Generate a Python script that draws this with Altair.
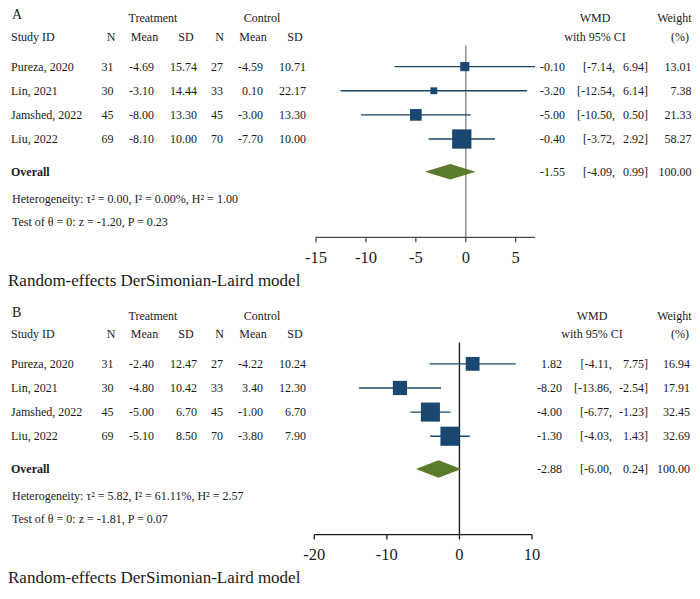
import altair as alt
import pandas as pd

# ---------------- data ----------------
studies = ["Pureza, 2020", "Lin, 2021", "Jamshed, 2022", "Liu, 2022"]
treat_n = [31, 30, 45, 69]
ctrl_n = [27, 33, 45, 70]

# Panel A
a_treat_mean = [-4.69, -3.10, -8.00, -8.10]
a_treat_sd = [15.74, 14.44, 13.30, 10.00]
a_ctrl_mean = [-4.59, 0.10, -3.00, -7.70]
a_ctrl_sd = [10.71, 22.17, 13.30, 10.00]
a_wmd = [-0.10, -3.20, -5.00, -0.40]
a_lo = [-7.14, -12.54, -10.50, -3.72]
a_hi = [6.94, 6.14, 0.50, 2.92]
a_weight = [13.01, 7.38, 21.33, 58.27]
a_overall = [-1.55, -4.09, 0.99, 100.00]
a_het = "Heterogeneity: \u03c4\u00b2 = 0.00, I\u00b2 = 0.00%, H\u00b2 = 1.00"
a_test = "Test of \u03b8 = 0: z = -1.20, P = 0.23"
a_ticks = [-15, -10, -5, 0, 5]

# Panel B
b_treat_mean = [-2.40, -4.80, -5.00, -5.10]
b_treat_sd = [12.47, 10.42, 6.70, 8.50]
b_ctrl_mean = [-4.22, 3.40, -1.00, -3.80]
b_ctrl_sd = [10.24, 12.30, 6.70, 7.90]
b_wmd = [1.82, -8.20, -4.00, -1.30]
b_lo = [-4.11, -13.86, -6.77, -4.03]
b_hi = [7.75, -2.54, -1.23, 1.43]
b_weight = [16.94, 17.91, 32.45, 32.69]
b_overall = [-2.88, -6.00, 0.24, 100.00]
b_het = "Heterogeneity: \u03c4\u00b2 = 5.82, I\u00b2 = 61.11%, H\u00b2 = 2.57"
b_test = "Test of \u03b8 = 0: z = -1.81, P = 0.07"
b_ticks = [-20, -10, 0, 10]

footer = "Random-effects DerSimonian-Laird model"

# ---------------- layout ----------------
W, H = 684, 578
Y0, Y1 = 0.25, 599.2
YS = alt.Scale(domain=[Y0, Y1], range=[0, H])


def yv(ry):
    return (ry - Y0) * H / (Y1 - Y0)


def xv(px):
    return px - 8


FONT = "Liberation Serif"
TXT = "#1a1a1a"
NAVY = "#1a476f"
GREEN = "#5a7b2c"
YENC = alt.Y("y:Q", scale=YS, axis=None)


def label(text, px, ry, align="center", size=12, weight="normal"):
    return alt.Chart(pd.DataFrame({"t": [text]})).mark_text(
        font=FONT, fontSize=size, fontWeight=weight, color=TXT,
        align=align, baseline="middle"
    ).encode(x=alt.value(xv(px)), y=alt.value(yv(ry)), text="t:N")


def panel(letter, top, tm, tsd, cm, csd, wmd, lo, hi, wt, ov, het, test, ticks,
          xpx, size_max, vline_color, axis_color, dx, diamond_h):
    layers = []
    rows = [top + 61 + 25 * i for i in range(len(studies))]
    ov_y = top + 170
    ax_y = top + 238
    f2 = lambda v: f"{v:.2f}"
    df = pd.DataFrame({
        "study": studies, "tn": [str(v) for v in treat_n],
        "tm": [f2(v) for v in tm], "tsd": [f2(v) for v in tsd],
        "cn": [str(v) for v in ctrl_n],
        "cm": [f2(v) for v in cm], "csd": [f2(v) for v in csd],
        "wmd": wmd, "lo": lo, "hi": hi, "w": wt,
        "wmd_s": [f2(v) for v in wmd],
        "lo_s": [f"[{v:.2f}," for v in lo],
        "hi_s": [f"{v:.2f}]" for v in hi],
        "w_s": [f2(v) for v in wt],
        "y": rows,
    })

    # headers
    layers += [
        label(letter, 12, top + 8, align="left", size=14),
        label("Treatment", 153, top + 11),
        label("Control", 262, top + 11),
        label("Study ID", 11, top + 30, align="left"),
        label("N", 111, top + 30), label("Mean", 144.5, top + 30), label("SD", 186, top + 30),
        label("N", 219.5, top + 30), label("Mean", 253, top + 30), label("SD", 295, top + 30),
        label("WMD", 595 + dx, top + 11), label("with 95% CI", 595 + dx, top + 30),
        label("Weight", 691.5, top + 11, align="right"), label("(%)", 680, top + 30),
    ]

    def col(field, px, align="right"):
        return alt.Chart(df).mark_text(
            font=FONT, fontSize=12, color=TXT, align=align, baseline="middle"
        ).encode(x=alt.value(xv(px)), y=YENC, text=f"{field}:N")

    layers += [
        col("study", 11, "left"), col("tn", 113.5), col("tm", 154), col("tsd", 197),
        col("cn", 223), col("cm", 263), col("csd", 306),
        col("wmd_s", 565 + dx), col("lo_s", 615 + dx), col("hi_s", 648), col("w_s", 691.5 + dx / 2),
    ]

    # overall row text
    layers += [
        label("Overall", 11, ov_y, align="left", weight="bold"),
        label(f"{ov[0]:.2f}", 565 + dx, ov_y, align="right"),
        label(f"[{ov[1]:.2f},", 615 + dx, ov_y, align="right"),
        label(f"{ov[2]:.2f}]", 648, ov_y, align="right"),
        label(f"{ov[3]:.2f}", 691.5 + dx / 2, ov_y, align="right"),
        label(het, 12, top + 198, align="left", size=12),
        label(test, 12, top + 222, align="left", size=12),
        label(footer, 8, top + 283, align="left", size=17),
    ]

    XS = alt.Scale(domain=[ticks[0], ticks[-1]], range=[xv(xpx[0]), xv(xpx[1])])
    XE = alt.X("x:Q", scale=XS, axis=None)

    # zero line
    layers.append(
        alt.Chart(pd.DataFrame({"x": [0], "y": [top + 39], "y2": [ax_y]}))
        .mark_rule(color=vline_color, strokeWidth=1.4)
        .encode(x=XE, y=YENC, y2="y2:Q")
    )
    # CI lines
    layers.append(
        alt.Chart(df).mark_rule(color=NAVY, strokeWidth=1.3)
        .encode(x=alt.X("lo:Q", scale=XS, axis=None), x2="hi:Q", y=YENC)
    )
    # squares
    layers.append(
        alt.Chart(df).mark_square(color=NAVY, opacity=1)
        .encode(x=alt.X("wmd:Q", scale=XS, axis=None), y=YENC,
                size=alt.Size("w:Q", scale=alt.Scale(domain=[0, 100], range=[0, size_max]), legend=None))
    )
    # diamond
    dd = pd.DataFrame({
        "x": [ov[1], ov[0], ov[2]],
        "y": [ov_y, ov_y - diamond_h, ov_y],
        "y2": [ov_y, ov_y + diamond_h, ov_y],
    })
    layers.append(
        alt.Chart(dd).mark_area(color=GREEN, orient="vertical", opacity=1)
        .encode(x=XE, y=YENC, y2="y2:Q")
    )
    # axis
    amin = min(ticks[0], min(lo), ov[1])
    amax = max(ticks[-1], max(hi), ov[2])
    layers.append(
        alt.Chart(pd.DataFrame({"x": [amin], "x2": [amax], "y": [ax_y]}))
        .mark_rule(color=axis_color, strokeWidth=1.3)
        .encode(x=XE, x2="x2:Q", y=YENC)
    )
    tdf = pd.DataFrame({"x": ticks, "y": [ax_y] * len(ticks), "y2": [ax_y + 5] * len(ticks),
                        "t": [str(t) for t in ticks]})
    layers.append(
        alt.Chart(tdf).mark_rule(color=axis_color, strokeWidth=1.3)
        .encode(x=XE, y=YENC, y2="y2:Q")
    )
    layers.append(
        alt.Chart(tdf).mark_text(font=FONT, fontSize=16.5, color=TXT, align="center", baseline="middle")
        .encode(x=XE, y=alt.value(yv(top + 259)), text="t:N")
    )
    return layers


layers = []
layers += panel("A", 0, a_treat_mean, a_treat_sd, a_ctrl_mean, a_ctrl_sd, a_wmd, a_lo, a_hi,
                a_weight, a_overall, a_het, a_test, a_ticks,
                xpx=(316, 515.7), size_max=640, vline_color="#8a8a8a", axis_color="#4a4a4a",
                dx=0, diamond_h=8)
layers += panel("B", 308, b_treat_mean, b_treat_sd, b_ctrl_mean, b_ctrl_sd, b_wmd, b_lo, b_hi,
                b_weight, b_overall, b_het, b_test, b_ticks,
                xpx=(314.3, 532), size_max=1120, vline_color="#1a1a1a", axis_color="#1a1a1a",
                dx=-3, diamond_h=9)

chart = (
    alt.layer(*layers)
    .resolve_scale(x="independent", size="independent")
    .properties(width=W, height=H, autosize=alt.AutoSizeParams(type="none"), padding=0,
                background="white")
    .configure_view(stroke=None)
)

chart.save("out.html", embed_options={"renderer": "svg", "actions": False})
